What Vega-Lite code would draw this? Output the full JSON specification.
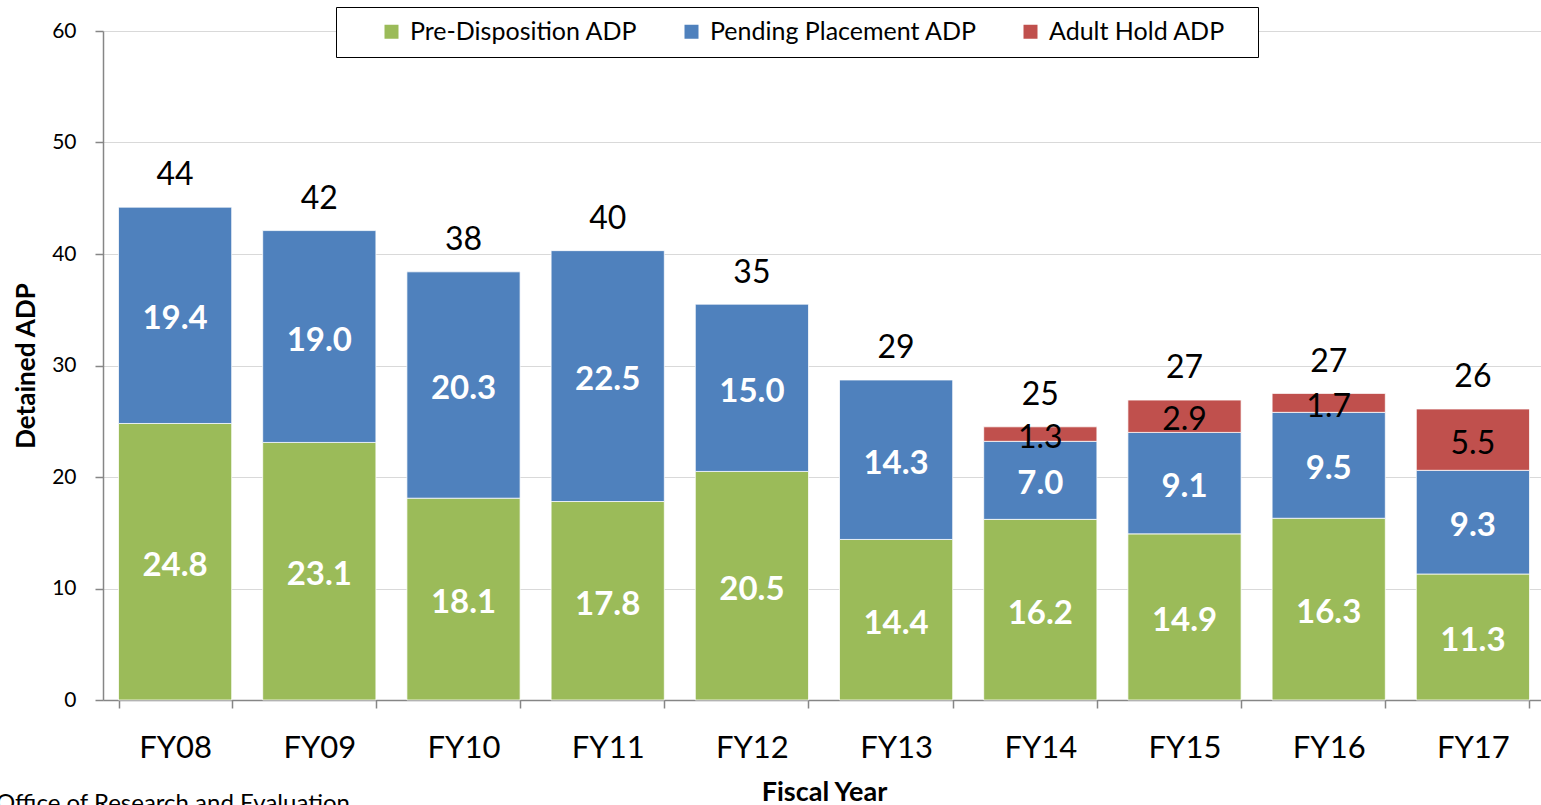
{
  "$schema": "https://vega.github.io/schema/vega-lite/v6.json",
  "width": 1442,
  "height": 669,
  "autosize": {"type": "none"},
  "padding": {"left": 103, "top": 31, "right": 0, "bottom": 105},
  "background": "white",
  "config": {"view": {"stroke": null}, "font": "Lato"},
  "title": {"text": "Office of Research and Evaluation", "orient": "bottom", "anchor": "start", "frame": "group", "dx": -107, "dy": -17, "fontSize": 24, "fontWeight": "normal", "font": "Lato", "color": "black"},
  "datasets": {
    "segments": [
      {"year": "FY08", "category": "Pre-Disposition ADP", "value": 24.8},
      {"year": "FY08", "category": "Pending Placement ADP", "value": 19.4},
      {"year": "FY09", "category": "Pre-Disposition ADP", "value": 23.1},
      {"year": "FY09", "category": "Pending Placement ADP", "value": 19.0},
      {"year": "FY10", "category": "Pre-Disposition ADP", "value": 18.1},
      {"year": "FY10", "category": "Pending Placement ADP", "value": 20.3},
      {"year": "FY11", "category": "Pre-Disposition ADP", "value": 17.8},
      {"year": "FY11", "category": "Pending Placement ADP", "value": 22.5},
      {"year": "FY12", "category": "Pre-Disposition ADP", "value": 20.5},
      {"year": "FY12", "category": "Pending Placement ADP", "value": 15.0},
      {"year": "FY13", "category": "Pre-Disposition ADP", "value": 14.4},
      {"year": "FY13", "category": "Pending Placement ADP", "value": 14.3},
      {"year": "FY14", "category": "Pre-Disposition ADP", "value": 16.2},
      {"year": "FY14", "category": "Pending Placement ADP", "value": 7.0},
      {"year": "FY14", "category": "Adult Hold ADP", "value": 1.3},
      {"year": "FY15", "category": "Pre-Disposition ADP", "value": 14.9},
      {"year": "FY15", "category": "Pending Placement ADP", "value": 9.1},
      {"year": "FY15", "category": "Adult Hold ADP", "value": 2.9},
      {"year": "FY16", "category": "Pre-Disposition ADP", "value": 16.3},
      {"year": "FY16", "category": "Pending Placement ADP", "value": 9.5},
      {"year": "FY16", "category": "Adult Hold ADP", "value": 1.7},
      {"year": "FY17", "category": "Pre-Disposition ADP", "value": 11.3},
      {"year": "FY17", "category": "Pending Placement ADP", "value": 9.3},
      {"year": "FY17", "category": "Adult Hold ADP", "value": 5.5}
    ],
    "totals": [
      {"year": "FY08", "total": 44.2},
      {"year": "FY09", "total": 42.1},
      {"year": "FY10", "total": 38.4},
      {"year": "FY11", "total": 40.3},
      {"year": "FY12", "total": 35.45},
      {"year": "FY13", "total": 28.7},
      {"year": "FY14", "total": 24.5},
      {"year": "FY15", "total": 26.9},
      {"year": "FY16", "total": 27.45},
      {"year": "FY17", "total": 26.1}
    ]
  },
  "encoding": {
    "x": {
      "field": "year", "type": "nominal", "sort": null,
      "scale": {"paddingInner": 0.215, "paddingOuter": 0.1075},
      "axis": {
        "title": "Fiscal Year", "titleFontSize": 27, "titleFontWeight": "bold", "titleFont": "Lato", "titleColor": "black", "titlePadding": 16,
        "labelAngle": 0, "labelFontSize": 31, "labelFont": "Lato", "labelColor": "black", "labelPadding": 25,
        "tickBand": "extent", "tickSize": 8, "tickColor": "#868686", "domainColor": "#868686", "domainWidth": 1.5, "tickWidth": 1.5, "grid": false
      }
    }
  },
  "layer": [
    {
      "data": {"name": "segments"},
      "transform": [
        {"stack": "value", "groupby": ["year"], "sort": [{"field": "category", "order": "descending"}], "as": ["v0", "v1"]}
      ],
      "mark": {"type": "bar", "stroke": "white", "strokeWidth": 0.75},
      "encoding": {
        "y": {
          "field": "v0", "type": "quantitative",
          "scale": {"domain": [0, 60]},
          "axis": {
            "title": "Detained ADP", "titleFontSize": 26, "titleFontWeight": "bold", "titleFont": "Lato", "titleColor": "black", "titlePadding": 12,
            "values": [0, 10, 20, 30, 40, 50, 60], "labelFontSize": 21, "labelFont": "Lato", "labelColor": "black", "labelPadding": 19,
            "tickSize": 8, "tickColor": "#868686", "domainColor": "#868686", "domainWidth": 1.5, "tickWidth": 1.5,
            "gridColor": "#D9D9D9", "gridWidth": 1.2
          }
        },
        "y2": {"field": "v1"},
        "color": {
          "field": "category", "type": "nominal",
          "scale": {"domain": ["Pre-Disposition ADP", "Pending Placement ADP", "Adult Hold ADP"], "range": ["#9BBB59", "#4F81BD", "#C0504D"]},
          "legend": {
            "title": "\u2003", "titleOrient": "right", "titlePadding": 21, "titleFontSize": 25,
            "orient": "none", "legendX": 233, "legendY": -24, "direction": "horizontal",
            "strokeColor": "black", "fillColor": "white", "padding": 12,
            "symbolType": "square", "symbolSize": 196, "symbolStrokeWidth": 0, "symbolOffset": 31,
            "labelFontSize": 25, "labelFont": "Lato", "labelColor": "black", "labelOffset": 6, "columnPadding": 10, "labelLimit": 400
          }
        }
      }
    },
    {
      "data": {"name": "segments"},
      "transform": [
        {"stack": "value", "groupby": ["year"], "sort": [{"field": "category", "order": "descending"}], "as": ["v0", "v1"]},
        {"calculate": "(datum.v0 + datum.v1) / 2", "as": "mid"},
        {"filter": "datum.category != 'Adult Hold ADP'"}
      ],
      "mark": {"type": "text", "color": "white", "fontWeight": "bold", "fontSize": 33, "font": "Lato", "baseline": "middle", "dy": 4},
      "encoding": {
        "y": {"field": "mid", "type": "quantitative"},
        "text": {"field": "value", "type": "quantitative", "format": ".1f"}
      }
    },
    {
      "data": {"name": "segments"},
      "transform": [
        {"stack": "value", "groupby": ["year"], "sort": [{"field": "category", "order": "descending"}], "as": ["v0", "v1"]},
        {"calculate": "(datum.v0 + datum.v1) / 2", "as": "mid"},
        {"filter": "datum.category == 'Adult Hold ADP'"}
      ],
      "mark": {"type": "text", "color": "black", "fontSize": 32, "font": "Lato", "baseline": "middle", "dy": 4},
      "encoding": {
        "y": {"field": "mid", "type": "quantitative"},
        "text": {"field": "value", "type": "quantitative", "format": ".1f"}
      }
    },
    {
      "data": {"name": "totals"},
      "mark": {"type": "text", "color": "black", "fontSize": 32, "font": "Lato", "baseline": "alphabetic", "dy": -22},
      "encoding": {
        "y": {"field": "total", "type": "quantitative"},
        "text": {"field": "total", "type": "quantitative", "format": ".0f"}
      }
    }
  ]
}
